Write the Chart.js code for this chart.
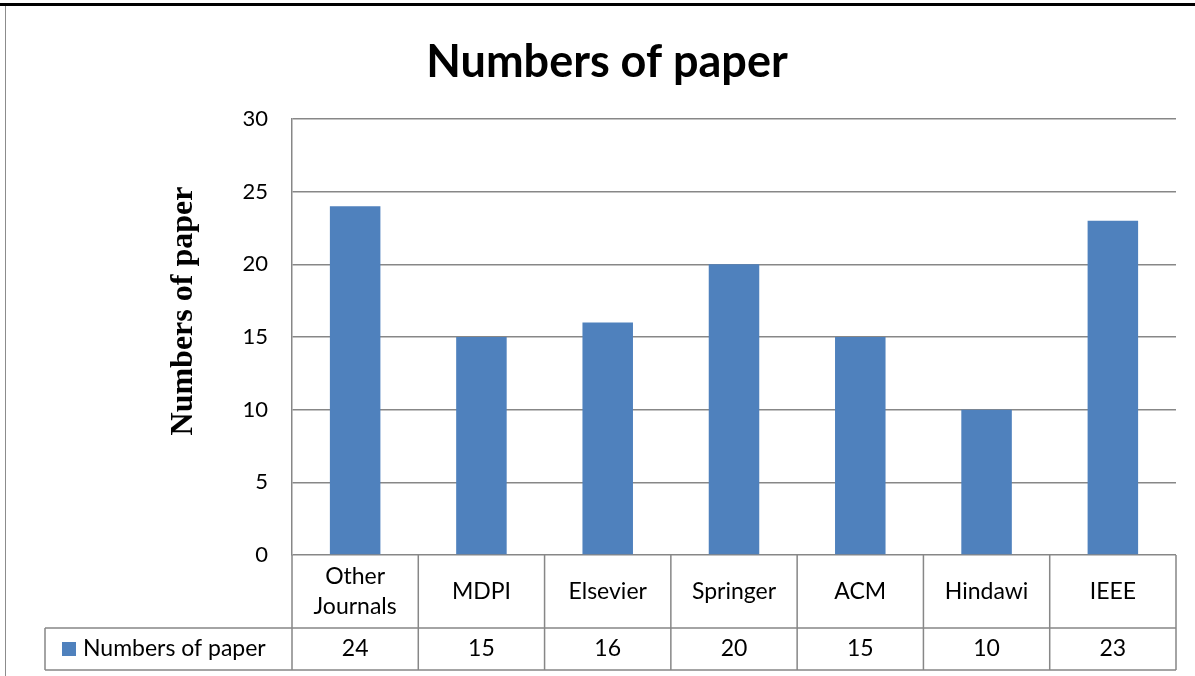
<!DOCTYPE html>
<html>
<head>
<meta charset="utf-8">
<title>Numbers of paper</title>
<script src="https://cdn.jsdelivr.net/npm/chart.js@4"></script>
<style>
    html, body { margin: 0; padding: 0; background: #ffffff; }
    #frame {
        position: absolute; left: 0; top: 0; width: 1195px; height: 676px;
        box-sizing: border-box; border-top: 3px solid #000000;
        margin-top: 3px;
    }
    #frame::before {
        content: ''; position: absolute; left: 5px; top: 0; bottom: 0;
        border-left: 1px solid #8c8c8c;
    }
    #canvas1 { position: absolute; left: 0; top: -6px; }
</style>
</head>
<body>
<div id="frame">
    <canvas id="canvas1" width="1195" height="676"></canvas>
</div>
<script>
// Chart data
const categories = [['Other', 'Journals'], 'MDPI', 'Elsevier', 'Springer', 'ACM', 'Hindawi', 'IEEE']
const seriesName = 'Numbers of paper'
const paperCounts = [24, 15, 16, 20, 15, 10, 23]
const yTicks = [0, 5, 10, 15, 20, 25, 30]
const chartTitle = 'Numbers of paper'
const yAxisTitle = 'Numbers of paper'

const barColor = '#4F81BD'
const lineColor = '#878787'
const sansFont = "Lato, 'Open Sans', sans-serif"
const serifFont = "'Liberation Serif', 'DejaVu Serif', serif"

// Draws the title, the y axis title and the data table under the plot
const dataTablePlugin = {
    id: 'dataTable',
    afterDraw(chart) {
        const ctx = chart.ctx
        const xScale = chart.scales.x
        const area = chart.chartArea
        const n = categories.length
        const cellW = (area.right - area.left) / n
        const row1Top = area.bottom
        const row1Bottom = area.bottom + 73
        const row2Bottom = row1Bottom + 42
        const tableLeft = 45

        ctx.save()

        // chart title
        ctx.fillStyle = '#000000'
        ctx.textAlign = 'center'
        ctx.textBaseline = 'middle'
        ctx.font = 'bold 45px ' + sansFont
        ctx.fillText(chartTitle, 607, 62)

        // y axis title, rotated
        ctx.save()
        ctx.translate(184, 311)
        ctx.rotate(-Math.PI / 2)
        ctx.font = 'bold 32px ' + serifFont
        ctx.fillText(yAxisTitle, 0, 0)
        ctx.restore()

        ctx.strokeStyle = lineColor
        ctx.lineWidth = 1.5

        ctx.beginPath()
        // vertical lines between categories
        for (let i = 0; i <= n; i++) {
            const x = area.left + i * cellW
            ctx.moveTo(x, row1Top)
            ctx.lineTo(x, row2Bottom)
        }
        // horizontal lines
        ctx.moveTo(tableLeft, row1Bottom)
        ctx.lineTo(area.right, row1Bottom)
        ctx.moveTo(tableLeft, row2Bottom)
        ctx.lineTo(area.right, row2Bottom)
        ctx.moveTo(tableLeft, row1Bottom)
        ctx.lineTo(tableLeft, row2Bottom)
        ctx.stroke()

        ctx.fillStyle = '#000000'
        ctx.font = '23px ' + sansFont

        categories.forEach((cat, i) => {
            const x = xScale.getPixelForValue(i)
            const mid = (row1Top + row1Bottom) / 2
            if (Array.isArray(cat)) {
                ctx.fillText(cat[0], x, mid - 15)
                ctx.fillText(cat[1], x, mid + 15)
            } else {
                ctx.fillText(cat, x, mid)
            }
            ctx.fillText(String(paperCounts[i]), x, (row1Bottom + row2Bottom) / 2)
        })

        // legend key
        const keyY = (row1Bottom + row2Bottom) / 2
        ctx.fillStyle = barColor
        ctx.fillRect(62, keyY - 7, 14, 14)
        ctx.fillStyle = '#000000'
        ctx.textAlign = 'left'
        ctx.fillText(seriesName, 83, keyY)

        ctx.restore()
    }
}

function createPaperChart() {
    const config = {
        type: 'bar',
        data: {
            labels: categories,
            datasets: [{
                label: seriesName,
                data: paperCounts,
                backgroundColor: barColor,
                borderColor: barColor,
                borderWidth: 0,
                barPercentage: 0.4,
                categoryPercentage: 1.0
            }]
        },
        options: {
            responsive: false,
            animation: false,
            layout: {
                padding: { top: 119, left: 165, right: 19, bottom: 0 }
            },
            plugins: {
                legend: { display: false },
                tooltip: { enabled: false },
                title: { display: false }
            },
            scales: {
                x: {
                    ticks: { display: false },
                    grid: { display: false },
                    border: { display: false },
                    afterFit: function(scale) {
                        scale.height = 121
                    }
                },
                y: {
                    min: 0,
                    max: 30,
                    afterBuildTicks: function(scale) {
                        scale.ticks = yTicks.map(v => ({ value: v }))
                    },
                    afterFit: function(scale) {
                        scale.width = 127
                    },
                    ticks: {
                        color: '#000000',
                        padding: 24,
                        font: { size: 22, family: sansFont }
                    },
                    grid: {
                        color: lineColor,
                        lineWidth: 1.5,
                        drawTicks: false
                    },
                    border: { color: lineColor, width: 1.5 }
                }
            }
        },
        plugins: [dataTablePlugin]
    }

    const canvas = document.getElementById('canvas1')
    new Chart(canvas.getContext('2d'), config)
}

createPaperChart()
</script>
</body>
</html>
